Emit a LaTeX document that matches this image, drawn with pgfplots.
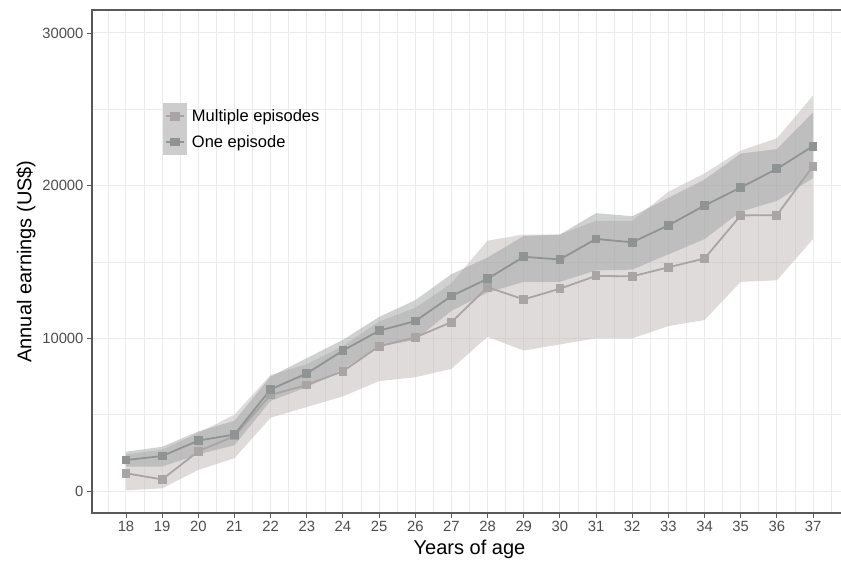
\documentclass[border=0pt]{standalone}
\usepackage{pgfplots}
\pgfplotsset{compat=1.18}
\usepackage{pgfplotstable}
\usepackage{fontspec}
\setmainfont{Liberation Sans}
\definecolor{gridc}{HTML}{EBEBEB}
\definecolor{onec}{HTML}{909393}
\definecolor{multc}{HTML}{AAA5A5}
\definecolor{bandL}{HTML}{C4BDBD}
\definecolor{bandD}{HTML}{9A9E9E}
\definecolor{keyc}{HTML}{CDCDCD}
\definecolor{tickc}{HTML}{4D4D4D}
\definecolor{framec}{HTML}{595959}

\pgfplotstableread{
age one mult
18 2030 1160
19 2290 760
20 3300 2600
21 3700 3600
22 6660 6300
23 7700 6940
24 9200 7850
25 10500 9480
26 11130 10060
27 12770 11060
28 13900 13350
29 15340 12550
30 15170 13250
31 16510 14090
32 16290 14060
33 17400 14650
34 18700 15230
35 19880 18050
36 21100 18070
37 22590 21280
}\data

% band polygons: upper bound 18->37, then lower bound 37->18
\pgfplotstableread{
x y
18 2400
19 2700
20 3800
21 5000
22 7600
23 8300
24 9500
25 11100
26 12000
27 13600
28 16400
29 16800
30 16800
31 17700
32 17700
33 19600
34 20800
35 22300
36 23100
37 25900
37 16500
36 13800
35 13700
34 11200
33 10800
32 10000
31 10000
30 9600
29 9200
28 10100
27 8000
26 7450
25 7200
24 6200
23 5500
22 4800
21 2150
20 1380
19 170
18 50
}\multband

\pgfplotstableread{
x y
18 2570
19 2900
20 3900
21 4600
22 7500
23 8700
24 9900
25 11400
26 12500
27 14200
28 15300
29 16700
30 16800
31 18200
32 18000
33 19200
34 20400
35 22100
36 22400
37 24800
37 20500
36 19000
35 18300
34 16500
33 15500
32 14500
31 14450
30 13700
29 13700
28 13000
27 11800
26 9900
25 9450
24 8000
23 6800
22 5900
21 3000
20 2400
19 1600
18 1590
}\oneband

\begin{document}
\begin{tikzpicture}
\begin{axis}[
  scale only axis, width=755pt, height=503pt,
  xmin=17.06, xmax=37.94, ymin=-1441, ymax=31506,
  xtick={18,...,37}, ytick={0,10000,20000,30000},
  minor xtick={17.5,18.5,...,37.5}, minor ytick={5000,15000,25000},
  xtick pos=bottom, ytick pos=left,
  grid=both,
  major grid style={gridc, line width=1pt},
  minor grid style={gridc, line width=0.6pt},
  axis line style={framec, line width=1.1pt},
  tick align=outside, major tick length=5pt, minor tick length=0pt,
  tick style={framec, line width=0.9pt},
  every tick label/.append style={font=\fontsize{14.8}{16}\selectfont, text=tickc},
  /pgf/number format/assume math mode=true,
  /pgf/number format/set thousands separator={},
  scaled y ticks=false,
  xlabel={Years of age},
  ylabel={Annual earnings (US\$)},
  xlabel style={font=\fontsize{20}{22}\selectfont, at={(axis description cs:0.5,-0.0716)}, anchor=center},
  ylabel style={font=\fontsize{20}{22}\selectfont, at={(axis description cs:-0.0875,0.5)}, anchor=center},
  legend style={draw=none, fill=none, at={(0.094,0.815)}, anchor=north west,
    font=\fontsize{16.5}{18}\selectfont, inner sep=0pt, row sep=0pt,
    nodes={inner xsep=5pt, inner ysep=0pt}},
  legend cell align=left,
]
\addplot[fill=bandL, fill opacity=0.55, draw=none, forget plot] table[x=x,y=y]{\multband} -- cycle;
\addplot[fill=bandD, fill opacity=0.47, draw=none, forget plot] table[x=x,y=y]{\oneband} -- cycle;
\addplot[multc, line width=1.8pt, mark=square*, mark size=3.5pt, mark options={fill=multc, draw=multc},
  legend image code/.code={
    \fill[keyc] (0pt,-12pt) rectangle (22pt,12pt);
    \draw[multc, line width=1.6pt] (2pt,0pt) -- (20pt,0pt);
    \fill[multc] (7pt,-3.5pt) rectangle (15pt,3.5pt);
  }] table[x=age,y=mult]{\data};
\addlegendentry{Multiple episodes}
\addplot[onec, line width=1.8pt, mark=square*, mark size=3.5pt, mark options={fill=onec, draw=onec},
  legend image code/.code={
    \fill[keyc] (0pt,-12pt) rectangle (22pt,12pt);
    \draw[onec, line width=1.6pt] (2pt,0pt) -- (20pt,0pt);
    \fill[onec] (7pt,-3.5pt) rectangle (15pt,3.5pt);
  }] table[x=age,y=one]{\data};
\addlegendentry{One episode}
\end{axis}
\pgfresetboundingbox
\path[use as bounding box] (-92pt,-50pt) rectangle (749pt,513pt);
\end{tikzpicture}
\end{document}
